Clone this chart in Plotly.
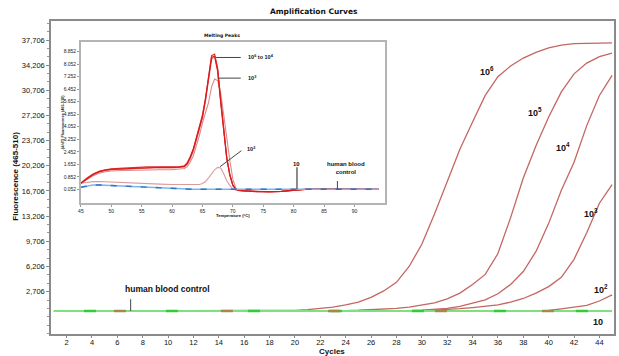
import plotly.graph_objects as go

# ---------------- main chart data (Amplification Curves) ----------------
cycles = list(range(1, 46))

amp_1e6 = [0, 0, 0, 0, 0, 0, 0, 0, 0, 0, 0, 0, 0, 0, 0, 0, 0, 20,
           50, 100, 200, 350, 550, 850, 1250, 1900, 2800, 4000, 6200, 9300,
           13500, 18000, 22500, 26300, 30000, 32600, 34100, 35200, 36000, 36600,
           37000, 37200, 37250, 37300, 37300]
amp_1e5 = [0, 0, 0, 0, 0, 0, 0, 0, 0, 0, 0, 0, 0, 0, 0, 0, 0, 0,
           0, 0, 0, 10, 40, 70, 110, 170, 250, 380, 550, 800,
           1150, 1700, 2500, 3700, 5100, 8000, 13000, 18500, 23000, 27000,
           30500, 33000, 34500, 35400, 35900]
amp_1e4 = [0, 0, 0, 0, 0, 0, 0, 0, 0, 0, 0, 0, 0, 0, 0, 0, 0, 0,
           0, 0, 0, 0, 0, 0, 0, 0, 0, 30, 60, 110,
           200, 380, 650, 1050, 1550, 2400, 3700, 5500, 8300, 12200,
           16800, 20700, 25800, 30000, 32800]
amp_1e3 = [0, 0, 0, 0, 0, 0, 0, 0, 0, 0, 0, 0, 0, 0, 0, 0, 0, 0,
           0, 0, 0, 0, 0, 0, 0, 0, 0, 0, 0, 60,
           120, 200, 330, 480, 650, 850, 1250, 1750, 2500, 3400,
           4700, 7200, 10900, 15000, 17600]
amp_1e2 = [0, 0, 0, 0, 0, 0, 0, 0, 0, 0, 0, 0, 0, 0, 0, 0, 0, 0,
           0, 0, 0, 0, 0, 0, 0, 0, 0, 0, 0, 0,
           0, 0, 0, 0, 0, 0, 0, 0, 30, 80,
           300, 560, 800, 1400, 2250]
amp_10 = [0, 0, 0, 0, 0, 0, 0, 0, 0, 0, 0, 0, 0, 0, 0, 0, 0, 0,
          0, 0, 0, 0, 0, 0, 0, 0, 0, 0, 0, 0,
          0, 0, 0, 0, 0, 0, 0, 0, 0, 0,
          0, 0, 0, 0, 0]
amp_hbc = [0, 0, 0, 0, 0, 0, 0, 0, 0, 0, 0, 0, 0, 0, 0, 0, 0, 0,
           0, 0, 0, 0, 0, 0, 0, 0, 0, 0, 0, 0,
           0, 0, 0, 0, 0, 0, 0, 0, 0, 0,
           0, 0, 0, 0, 0]

y_tick_vals = [2706, 6206, 9706, 13206, 16706, 20206, 23706, 27206, 30706, 34206, 37706]
y_tick_text = ["2,706", "6,206", "9,706", "13,206", "16,706", "20,206",
               "23,706", "27,206", "30,706", "34,206", "37,706"]
x_tick_vals = list(range(2, 46, 2))

# ---------------- inset data (Melting Peaks) ----------------
temps = [45, 46, 47, 48, 49, 50, 52, 54, 56, 58, 60, 61, 62, 62.5, 63, 63.5, 64,
         64.5, 65, 65.5, 66, 66.5, 67, 67.5, 68, 68.5, 69, 69.5, 70, 70.5, 71,
         72, 74, 76, 78, 80, 82, 85, 88, 91, 94]

mp_1e6 = [0.44, 0.75, 1.0, 1.18, 1.28, 1.33, 1.36, 1.42, 1.45, 1.46, 1.45, 1.46, 1.52,
          1.7, 2.1, 2.6, 3.3, 4.1, 4.7, 5.8, 7.1, 8.5, 8.55, 7.6, 5.6, 3.6, 2.0,
          0.95, 0.3, 0.05, -0.02, -0.05, -0.1, -0.1, -0.08, 0.0, 0.05, 0.06, 0.05, 0.06, 0.05]
mp_1e5 = [0.46, 0.78, 1.03, 1.2, 1.3, 1.36, 1.4, 1.45, 1.48, 1.49, 1.48, 1.49, 1.55,
          1.75, 2.15, 2.65, 3.35, 4.15, 4.8, 5.9, 7.2, 8.6, 8.7, 7.8, 5.8, 3.7, 2.1,
          1.0, 0.32, 0.06, -0.02, -0.05, -0.1, -0.11, -0.08, 0.0, 0.05, 0.06, 0.05, 0.06, 0.05]
mp_1e4 = [0.42, 0.72, 0.97, 1.15, 1.25, 1.3, 1.34, 1.39, 1.42, 1.43, 1.42, 1.43, 1.48,
          1.65, 2.0, 2.5, 3.2, 4.0, 4.6, 5.7, 7.0, 8.35, 8.6, 7.7, 5.7, 3.7, 2.05,
          1.0, 0.3, 0.05, -0.03, -0.06, -0.1, -0.1, -0.08, 0.0, 0.05, 0.06, 0.05, 0.06, 0.05]
mp_1e3 = [0.42, 0.7, 0.92, 1.08, 1.17, 1.22, 1.25, 1.28, 1.3, 1.3, 1.3, 1.32, 1.38,
          1.5, 1.8, 2.2, 2.8, 3.5, 4.3, 5.0, 5.6, 6.6, 7.1, 7.0, 6.2, 4.8, 3.3,
          1.9, 0.7, 0.1, -0.02, -0.05, -0.1, -0.1, -0.08, 0.0, 0.05, 0.06, 0.05, 0.06, 0.05]
mp_1e2 = [0.44, 0.5, 0.54, 0.55, 0.53, 0.5, 0.46, 0.43, 0.4, 0.38, 0.36, 0.35, 0.34,
          0.34, 0.34, 0.34, 0.34, 0.36, 0.42, 0.55, 0.78, 1.05, 1.3, 1.45, 1.42, 1.05, 0.6,
          0.3, 0.08, 0.0, -0.03, -0.05, -0.1, -0.1, -0.08, 0.0, 0.05, 0.06, 0.05, 0.06, 0.05]
mp_10 = [0.18, 0.26, 0.32, 0.33, 0.31, 0.29, 0.25, 0.2, 0.16, 0.12, 0.09, 0.07, 0.06,
         0.05, 0.05, 0.05, 0.05, 0.05, 0.05, 0.05, 0.05, 0.05, 0.05, 0.05, 0.05, 0.05, 0.05,
         0.05, 0.05, 0.05, 0.04, 0.04, 0.04, 0.04, 0.04, 0.05, 0.05, 0.05, 0.05, 0.05, 0.05]
mp_hbc = [0.19, 0.27, 0.33, 0.33, 0.31, 0.29, 0.25, 0.2, 0.16, 0.12, 0.09, 0.07, 0.06,
          0.05, 0.05, 0.05, 0.05, 0.05, 0.05, 0.05, 0.05, 0.05, 0.05, 0.05, 0.05, 0.05, 0.05,
          0.05, 0.05, 0.05, 0.05, 0.04, 0.04, 0.04, 0.04, 0.05, 0.05, 0.05, 0.05, 0.05, 0.05]

mp_y_tick_vals = [0.052, 0.852, 1.652, 2.452, 3.252, 4.052, 4.852, 5.652, 6.452, 7.252, 8.052, 8.852]
mp_y_tick_text = ["0.052", "0.852", "1.652", "2.452", "3.252", "4.052", "4.852",
                  "5.652", "6.452", "7.252", "8.052", "8.852"]
mp_x_tick_vals = [45, 50, 55, 60, 65, 70, 75, 80, 85, 90]

# ---------------- figure ----------------
W, H = 619, 356
L, R, T, B = 51, 3, 21, 22

def px(xp):
    return (xp - L) / (W - L - R)

def py(yp):
    return (H - B - yp) / (H - T - B)

fig = go.Figure()

red = "#c46663"
for ys in [amp_1e6, amp_1e5, amp_1e4, amp_1e3, amp_1e2]:
    fig.add_trace(go.Scatter(x=cycles, y=ys, mode="lines",
                             line=dict(color=red, width=1.3), hoverinfo="skip"))
# baseline series
fig.add_trace(go.Scatter(x=cycles, y=amp_hbc, mode="lines",
                         line=dict(color="#7fe07f", width=2), hoverinfo="skip"))
fig.add_trace(go.Scatter(x=cycles, y=amp_hbc, mode="lines",
                         line=dict(color="#33cc33", width=2.5, dash="0px,30px,12px,40px"),
                         hoverinfo="skip"))
fig.add_trace(go.Scatter(x=cycles, y=amp_10, mode="lines",
                         line=dict(color="#a48a48", width=2.5, dash="0px,60px,12px,35px"),
                         hoverinfo="skip"))

# inset traces
fig.add_trace(go.Scatter(x=temps, y=mp_1e2, mode="lines", xaxis="x2", yaxis="y2",
                         line=dict(color="#dd9a9a", width=1.1), hoverinfo="skip"))
fig.add_trace(go.Scatter(x=temps, y=mp_1e3, mode="lines", xaxis="x2", yaxis="y2",
                         line=dict(color="#d98a8a", width=1.1), hoverinfo="skip"))
fig.add_trace(go.Scatter(x=temps, y=mp_1e4, mode="lines", xaxis="x2", yaxis="y2",
                         line=dict(color="#e07070", width=1.1), hoverinfo="skip"))
fig.add_trace(go.Scatter(x=temps, y=mp_1e5, mode="lines", xaxis="x2", yaxis="y2",
                         line=dict(color="#e03030", width=1.2), hoverinfo="skip"))
fig.add_trace(go.Scatter(x=temps, y=mp_1e6, mode="lines", xaxis="x2", yaxis="y2",
                         line=dict(color="#dd1a1a", width=1.2), hoverinfo="skip"))
fig.add_trace(go.Scatter(x=temps, y=mp_hbc, mode="lines", xaxis="x2", yaxis="y2",
                         line=dict(color="#7ab6ea", width=1.4), hoverinfo="skip"))
fig.add_trace(go.Scatter(x=temps, y=mp_10, mode="lines", xaxis="x2", yaxis="y2",
                         line=dict(color="#2e74c8", width=1.4, dash="6px,9px"), hoverinfo="skip"))

tick_font = dict(family="Liberation Sans, Arial", size=7.5, color="#111")
small_font = dict(family="Liberation Sans, Arial", size=5, color="#222")

fig.update_layout(
    width=W, height=H,
    margin=dict(l=L, r=R, t=T, b=B),
    paper_bgcolor="white", plot_bgcolor="white",
    showlegend=False,
    xaxis=dict(range=[0.77, 45.15], tickvals=x_tick_vals, ticks="outside", ticklen=2,
               ticklabelstandoff=-2,
               tickcolor="#888", tickfont=dict(family="Liberation Sans, Arial", size=7.5, color="#111"),
               showgrid=False, zeroline=False,
               showline=True, mirror=True, linecolor="#8a8a8a", linewidth=1.5),
    yaxis=dict(range=[-3191, 40355], tickvals=y_tick_vals, ticktext=y_tick_text,
               ticks="outside", ticklen=3, tickcolor="#888", tickfont=tick_font,
               showgrid=False, zeroline=False, showline=True, mirror=True,
               linecolor="#8a8a8a", linewidth=1.5,
               minor=dict(dtick=1166.67, tick0=2706, ticks="outside", ticklen=2, tickcolor="#999")),
    xaxis2=dict(domain=[px(81), px(386)], anchor="y2", range=[45, 95], tickvals=mp_x_tick_vals,
                ticks="outside", ticklen=2, tickcolor="#999", tickfont=small_font,
                showgrid=False, zeroline=False, showline=True, mirror=True,
                linecolor="#b4b4b4", linewidth=1.5),
    yaxis2=dict(domain=[py(203.3), py(42)], anchor="x2", range=[-0.844, 9.47],
                tickvals=mp_y_tick_vals, ticktext=mp_y_tick_text,
                ticks="outside", ticklen=2, tickcolor="#999", tickfont=small_font,
                showgrid=False, zeroline=False, showline=True, mirror=True,
                linecolor="#b4b4b4", linewidth=1.5),
)

ann = []
def A(text, x, y, size, xref="x", yref="y", xanchor="center", yanchor="middle",
      angle=0, family="Liberation Sans, Arial"):
    ann.append(dict(text=text, x=x, y=y, xref=xref, yref=yref, xanchor=xanchor,
                    yanchor=yanchor, showarrow=False, textangle=angle,
                    font=dict(family=family, size=size, color="#111")))

# titles
A("<b>Amplification Curves</b>", px(315), py(11), 7.5, "paper", "paper", family="DejaVu Sans")
A("<b>Fluorescence (465-510)</b>", px(15), py(176.5), 8, "paper", "paper", angle=-90)
A("<b>Cycles</b>", px(333), py(351.8), 8, "paper", "paper")
A("<b>Melting Peaks</b>", px(223), py(35.7), 4.5, "paper", "paper", family="DejaVu Sans")
A("<b>Temperature (°C)</b>", px(215), py(215), 4.2, "paper", "paper", xanchor="left")
A("<b>-(d/dT) Fluorescence (465-510)</b>", px(63.5), py(122), 3.8, "paper", "paper", angle=-90)

# main labels
A("<b>10<sup>6</sup></b>", 35.17, 33332, 9)
A("<b>10<sup>5</sup></b>", 38.92, 27658, 9)
A("<b>10<sup>4</sup></b>", 41.14, 22780, 9)
A("<b>10<sup>3</sup></b>", 43.32, 13635, 9)
A("<b>10<sup>2</sup></b>", 44.1, 3082, 9)
A("<b>10</b>", 43.9, -1476, 9)
A("<b>human blood control</b>", 9.98, 3041, 8.5)

# inset labels
A("<b>10<sup>6</sup> to 10<sup>4</sup></b>", 72.1, 8.48, 5.5, "x2", "y2", xanchor="left")
A("<b>10<sup>3</sup></b>", 72.1, 7.16, 5.5, "x2", "y2", xanchor="left")
A("<b>10<sup>2</sup></b>", 72.0, 2.61, 5.5, "x2", "y2", xanchor="left")
A("<b>10</b>", 80.55, 1.67, 6, "x2", "y2")
A("<b>human blood<br>control</b>", 85.2, 1.43, 6, "x2", "y2", xanchor="left")
fig.update_layout(annotations=ann)

lc = dict(color="#444", width=1)
shapes = [
    dict(type="line", xref="x", yref="y", x0=7.05, x1=7.05, y0=1647, y1=15, line=lc),
    dict(type="line", xref="x2", yref="y2", x0=67.25, x1=71.3, y0=8.48, y1=8.48, line=lc),
    dict(type="line", xref="x2", yref="y2", x0=67.5, x1=71.3, y0=7.16, y1=7.16, line=lc),
    dict(type="line", xref="x2", yref="y2", x0=67.9, x1=71.4, y0=1.50, y1=2.52, line=lc),
    dict(type="line", xref="x2", yref="y2", x0=80.55, x1=80.55, y0=1.46, y1=0.07, line=dict(color="#666", width=1.5)),
    dict(type="line", xref="x2", yref="y2", x0=87.2, x1=87.2, y0=0.58, y1=0.07, line=lc),
]
fig.update_layout(shapes=shapes)

fig.write_html("out.html")
